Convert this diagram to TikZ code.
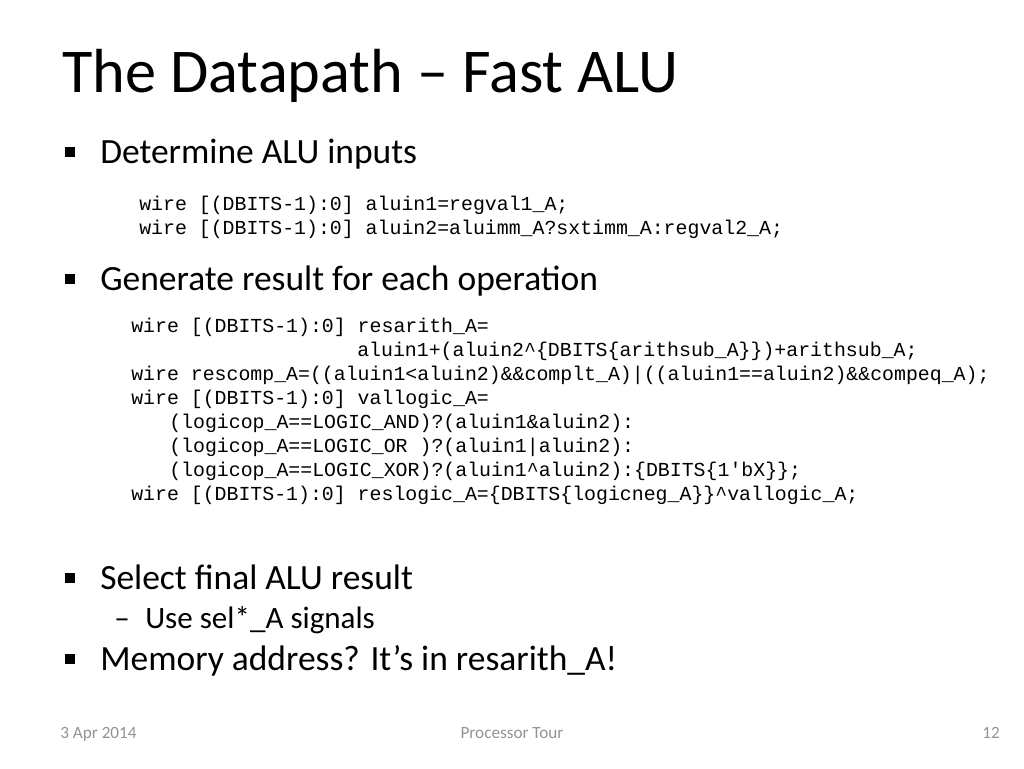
\documentclass[tikz,border=0pt]{standalone}
\usepackage{fontspec}
\setmainfont{Carlito}
\newfontfamily\cf{Liberation Mono}
\begin{document}
\begin{tikzpicture}[x=0.75pt,y=-0.75pt,
  tx/.style={anchor=base west,inner sep=0pt},
  bul/.style={tx,font=\fontsize{26.6pt}{30pt}\selectfont},
  sq/.style={fill=black,minimum size=7pt,inner sep=0pt,draw=none},
  cd/.style={tx,font=\cf\fontsize{14.9pt}{18pt}\selectfont},
  ft/.style={inner sep=0pt,anchor=base,text=gray!85,font=\fontsize{12.9pt}{14pt}\selectfont}]
\useasboundingbox (0,0) rectangle (1024,768);
\node[tx,font=\fontsize{46.7pt}{56pt}\selectfont] (title) at (62,92) {The Datapath -- Fast ALU};
\node[sq] (s1) at (70,152) {};
\node[bul] (b1) at (100,163) {Determine ALU inputs};
\node[cd] (c1) at (139,210) {wire [(DBITS-1):0] aluin1=regval1\_A;};
\node[cd] (c2) at (139,234) {wire [(DBITS-1):0] aluin2=aluimm\_A?sxtimm\_A:regval2\_A;};
\node[sq] (s2) at (70,279) {};
\node[bul] (b2) at (100,290) {Generate result for each operation};
\node[cd] (d1) at (131,332) {wire [(DBITS-1):0] resarith\_A=};
\node[cd] (d2) at (357,356) {aluin1+(aluin2\textasciicircum\{DBITS\{arithsub\_A\}\})+arithsub\_A;};
\node[cd] (d3) at (131,380) {wire rescomp\_A=((aluin1<aluin2)\&\&complt\_A)|((aluin1==aluin2)\&\&compeq\_A);};
\node[cd] (d4) at (131,404) {wire [(DBITS-1):0] vallogic\_A=};
\node[cd] (d5) at (169,428) {(logicop\_A==LOGIC\_AND)?(aluin1\&aluin2):};
\node[cd] (d6) at (169,452) {(logicop\_A==LOGIC\_OR~)?(aluin1|aluin2):};
\node[cd] (d7) at (169,476) {(logicop\_A==LOGIC\_XOR)?(aluin1\textasciicircum aluin2):\{DBITS\{1'bX\}\};};
\node[cd] (d8) at (131,500) {wire [(DBITS-1):0] reslogic\_A=\{DBITS\{logicneg\_A\}\}\textasciicircum vallogic\_A;};
\node[sq] (s3) at (70,578) {};
\node[bul] (b3) at (100,589) {Select final ALU result};
\node[tx,font=\fontsize{23.3pt}{26pt}\selectfont] (dash) at (114,628) {--};
\node[tx,font=\fontsize{23.3pt}{26pt}\selectfont] (b4) at (145,628) {Use sel*\_A signals};
\node[sq] (s4) at (70,659) {};
\node[bul] (b5) at (100,670) {Memory address? It’s in resarith\_A!};
\node[ft,anchor=base west] (f1) at (60,738) {3 Apr 2014};
\node[ft] (f2) at (512,738) {Processor Tour};
\node[ft,anchor=base east] (f3) at (1000,738) {12};
\end{tikzpicture}
\end{document}
